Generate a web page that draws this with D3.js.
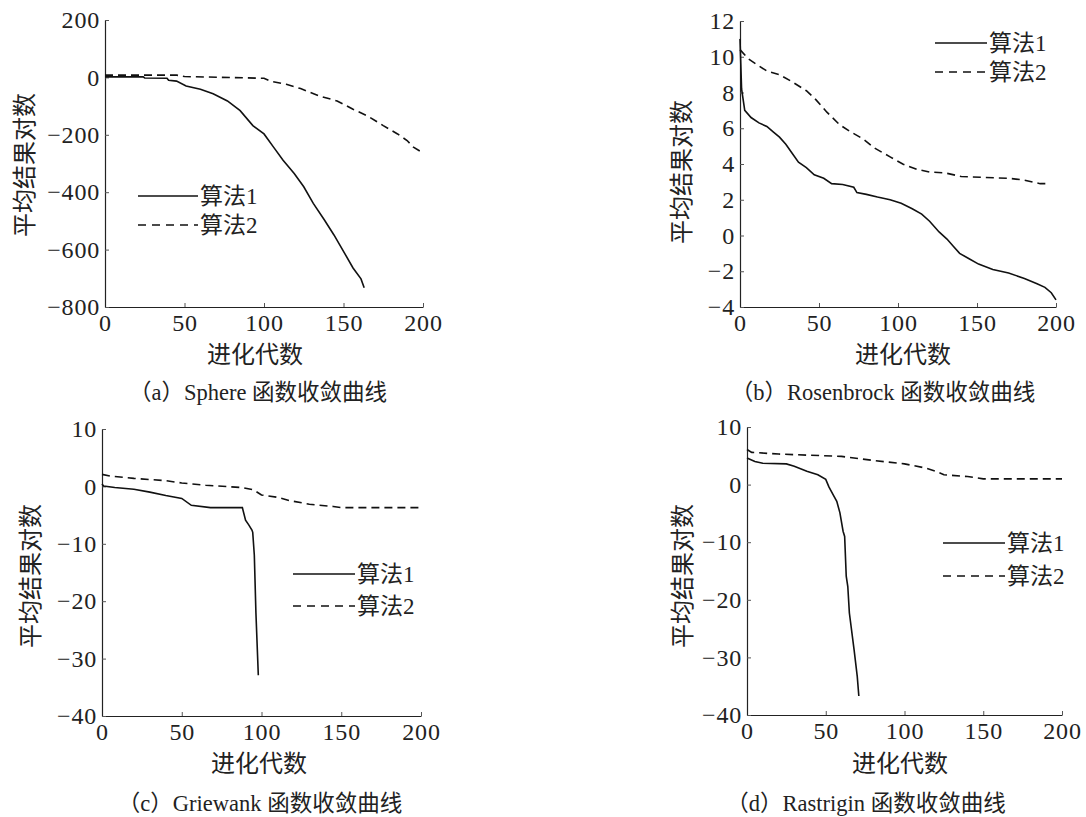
<!DOCTYPE html>
<html><head><meta charset="utf-8">
<script src="https://cdn.jsdelivr.net/npm/d3@7/dist/d3.min.js"></script>
<style>
html,body{margin:0;padding:0;background:#fff;}
svg{display:block;}
</style></head>
<body>
<svg id="c" width="1086" height="817"></svg>
<script>
// ---- data: [generation, mean log result] ----
const sphereAlg1 = [[0,2],[24,2],[25,-2],[39,-3],[40,-10],[45,-13],[51,-30],[60,-41],[68,-57],[77,-82],[85,-116],[93,-168],[100,-197],[106,-243],[112,-289],[119,-335],[125,-381],[131,-439],[138,-497],[144,-549],[150,-606],[156,-664],[161,-702],[163,-733]];
const sphereAlg2 = [[0,8],[45,8],[50,3],[100,-3],[104,-13],[114,-24],[123,-39],[135,-65],[146,-82],[156,-111],[165,-134],[175,-168],[184,-197],[190,-220],[194,-243],[199,-260]];
const rosenAlg1 = [[0,11.0],[1,8.2],[3,7.0],[7,6.6],[12,6.3],[17,6.1],[21,5.8],[25,5.5],[29,5.1],[33,4.6],[37,4.1],[42,3.8],[47,3.4],[53,3.2],[58,2.9],[65,2.85],[72,2.7],[74,2.4],[80,2.3],[87,2.15],[95,2.0],[102,1.8],[109,1.5],[115,1.2],[120,0.8],[126,0.2],[131,-0.2],[135,-0.6],[139,-1.0],[145,-1.3],[151,-1.6],[160,-1.9],[170,-2.1],[180,-2.4],[188,-2.7],[193,-2.9],[197,-3.2],[200,-3.6]];
const rosenAlg2 = [[0,10.4],[5,9.9],[10,9.6],[17,9.2],[25,9.0],[33,8.6],[42,8.1],[48,7.6],[55,6.9],[63,6.2],[70,5.8],[78,5.4],[85,4.9],[95,4.4],[103,4.0],[112,3.7],[120,3.55],[130,3.5],[140,3.3],[155,3.25],[170,3.2],[180,3.1],[190,2.9],[196,2.9]];
const griewAlg1 = [[0,0.4],[1,0.06],[8,-0.2],[20,-0.5],[30,-1.0],[40,-1.6],[50,-2.1],[56,-3.3],[68,-3.7],[88,-3.7],[90,-5.9],[92,-6.7],[94,-7.6],[94.5,-8],[95.5,-12],[96.5,-22],[98,-32.9]];
const griewAlg2 = [[0,2.1],[5,1.8],[20,1.4],[40,1.0],[50,0.6],[65,0.2],[88,-0.2],[95,-0.6],[100,-1.5],[110,-1.9],[118,-2.5],[130,-3.1],[145,-3.5],[150,-3.7],[200,-3.7]];
const rastAlg1 = [[0,4.6],[5,4.0],[10,3.7],[25,3.6],[30,3.2],[38,2.3],[45,1.7],[50,0.9],[52,-0.4],[55,-1.9],[57,-2.9],[59,-4.9],[61,-8.1],[62,-9.0],[63,-15.9],[64,-17.7],[65,-22.3],[68,-28.7],[70,-33.3],[71,-36.7]];
const rastAlg2 = [[0,6.1],[3,5.6],[20,5.3],[40,5.1],[60,4.9],[80,4.2],[100,3.6],[113,2.9],[120,2.3],[125,1.7],[140,1.4],[150,1.0],[200,1.0]];

const xTicks = [0,50,100,150,200];
const sphereTicks = [-800,-600,-400,-200,0,200];
const rosenTicks = [-4,-2,0,2,4,6,8,10,12];
const griewTicks = [-40,-30,-20,-10,0,10];
const rastTicks = [-40,-30,-20,-10,0,10];
const legendNames = ["算法1","算法2"];
const xTitle = "进化代数";
const yTitle = "平均结果对数";
const captions = ["（a）Sphere 函数收敛曲线","（b）Rosenbrock 函数收敛曲线","（c）Griewank 函数收敛曲线","（d）Rastrigin 函数收敛曲线"];

const svg = d3.select("#c");
const serif = "'Liberation Serif','Noto Sans CJK SC',serif";

function panel(cfg){
  const g = svg.append("g");
  const x = d3.scaleLinear().domain([0,200]).range([cfg.left, cfg.right]);
  const y = d3.scaleLinear().domain([cfg.ticks[0], cfg.ticks[cfg.ticks.length-1]]).range([cfg.bottom, cfg.top]);
  const xa = g.append("g").attr("transform",`translate(0,${cfg.bottom})`)
    .call(d3.axisBottom(x).tickValues(xTicks).tickSize(-4).tickPadding(7).tickSizeOuter(0));
  const ya = g.append("g").attr("transform",`translate(${cfg.left},0)`)
    .call(d3.axisLeft(y).tickValues(cfg.ticks).tickSize(-4).tickPadding(5).tickSizeOuter(0));
  [xa,ya].forEach(a=>{
    a.select(".domain").attr("stroke","#222").attr("stroke-width",1.2);
    a.selectAll(".tick line").attr("stroke","#555").attr("stroke-width",1);
    a.selectAll(".tick text").attr("font-family",serif).attr("font-size",24)
      .attr("letter-spacing","0.8px").attr("fill","#222");
  });
  const line = d3.line().x(d=>x(d[0])).y(d=>y(d[1]));
  g.append("path").datum(cfg.s1).attr("d",line).attr("fill","none").attr("stroke","#111").attr("stroke-width",1.6);
  g.append("path").datum(cfg.s2).attr("d",line).attr("fill","none").attr("stroke","#111").attr("stroke-width",1.6).attr("stroke-dasharray","8,5");
  // legend
  const lg = g.append("g").attr("transform",`translate(${cfg.lx},${cfg.ly})`);
  [0,1].forEach(i=>{
    const yy = i*cfg.lgap;
    lg.append("line").attr("x1",0).attr("x2",cfg.lw).attr("y1",yy).attr("y2",yy)
      .attr("stroke","#111").attr("stroke-width",1.6).attr("stroke-dasharray", i? "8,6": null);
    lg.append("text").attr("x",cfg.lw+2).attr("y",yy).attr("dy","0.35em")
      .attr("font-family",serif).attr("font-size",23).attr("fill","#222").text(legendNames[i]);
  });
  g.append("text").attr("x",cfg.xtx).attr("y",cfg.xty).attr("text-anchor","middle").attr("dy","0.35em")
    .attr("font-family","'Noto Sans CJK SC',sans-serif").attr("font-size",24).attr("fill","#222").text(xTitle);
  g.append("text").attr("transform",`translate(${cfg.ytx},${cfg.yty}) rotate(-90)`).attr("text-anchor","middle").attr("dy","0.35em")
    .attr("font-family","'Noto Sans CJK SC',sans-serif").attr("font-size",24).attr("fill","#222").text(yTitle);
  g.append("text").attr("x",cfg.cx).attr("y",cfg.cy).attr("text-anchor","middle").attr("dy","0.35em")
    .attr("font-family",serif).attr("font-size",22.5).attr("fill","#222").text(cfg.cap);
}

panel({left:105,right:423,top:20,bottom:307,ticks:sphereTicks,s1:sphereAlg1,s2:sphereAlg2,
  lx:138,ly:196,lw:60,lgap:29,xtx:255,xty:355,ytx:25,yty:165,cx:258,cy:392,cap:captions[0]});
panel({left:740,right:1056,top:21,bottom:307,ticks:rosenTicks,s1:rosenAlg1,s2:rosenAlg2,
  lx:935,ly:43,lw:52,lgap:29,xtx:903,xty:355,ytx:682,yty:172,cx:883,cy:392,cap:captions[1]});
panel({left:102,right:421,top:429,bottom:716,ticks:griewTicks,s1:griewAlg1,s2:griewAlg2,
  lx:293,ly:574,lw:62,lgap:32,xtx:259,xty:764,ytx:31,yty:576,cx:260,cy:803,cap:captions[2]});
panel({left:747,right:1062,top:427,bottom:715,ticks:rastTicks,s1:rastAlg1,s2:rastAlg2,
  lx:943,ly:543,lw:62,lgap:33,xtx:900,xty:764,ytx:683,yty:576,cx:866,cy:803,cap:captions[3]});
</script>
</body></html>
